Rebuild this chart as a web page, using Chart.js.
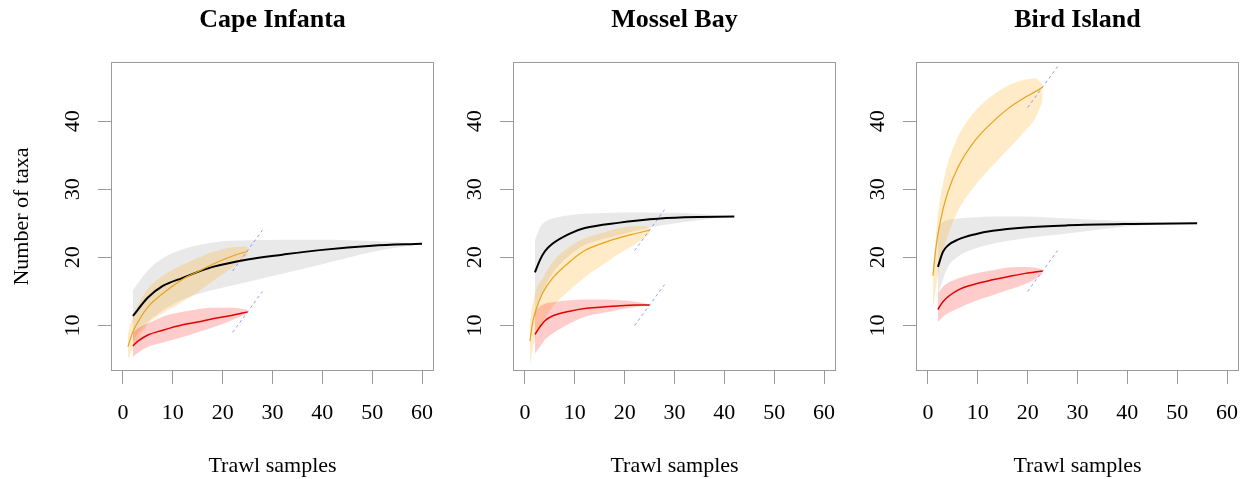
<!DOCTYPE html>
<html><head><meta charset="utf-8">
<script src="https://cdn.jsdelivr.net/npm/chart.js@4/dist/chart.umd.min.js"></script>
<style>
html,body{margin:0;padding:0;background:#fff;}
#wrap{position:relative;width:1246px;height:479px;overflow:hidden;background:#fff;}
canvas{position:absolute;top:0;}
</style></head><body>
<div id="wrap">
<canvas id="c0" width="452" height="479" style="left:0px"></canvas>
<canvas id="c1" width="452" height="479" style="left:402px"></canvas>
<canvas id="c2" width="452" height="479" style="left:805px"></canvas>
</div>
<script>
// ---------- data ----------
const panelTitles = ['Cape Infanta', 'Mossel Bay', 'Bird Island'];
const xTicks = [0, 10, 20, 30, 40, 50, 60];
const yTicks = [10, 20, 30, 40];
const xLabel = 'Trawl samples';
const yLabel = 'Number of taxa';

// Cape Infanta
const ciAllX    = [2, 5, 8, 12, 18, 25, 32, 40, 50, 60];
const ciAllMean = [11.4, 14.1, 15.8, 17.0, 18.6, 19.7, 20.4, 21.1, 21.7, 22.0];
const ciAllHi   = [15.2, 18.1, 19.9, 21.2, 22.2, 22.5, 22.6, 22.6, 22.4, 22.0];
const ciAllLo   = [7.8, 10.5, 12.2, 13.8, 15.2, 16.4, 17.6, 19.0, 20.8, 22.0];
const ciOrX     = [1, 2, 3, 5, 8, 12, 15, 18, 22, 25];
const ciOrMean  = [6.9, 9.1, 10.5, 12.7, 14.7, 16.8, 17.9, 19.0, 20.2, 20.9];
const ciOrHi    = [8.8, 11.5, 13.0, 15.4, 17.3, 18.9, 19.9, 20.8, 21.5, 21.6];
const ciOrLo    = [5.0, 6.8, 8.0, 10.2, 11.8, 13.5, 14.9, 16.5, 18.5, 20.3];
const ciRedX    = [2, 3, 5, 8, 12, 15, 18, 22, 25];
const ciRedMean = [7.0, 7.7, 8.6, 9.3, 10.1, 10.5, 11.0, 11.5, 12.0];
const ciRedHi   = [9.0, 9.6, 10.3, 11.3, 12.0, 12.4, 12.6, 12.6, 12.3];
const ciRedLo   = [5.4, 6.0, 6.85, 7.5, 8.3, 9.0, 9.7, 10.8, 11.8];
const ciOrDashX = [22, 28], ciOrDashY = [18, 24];
const ciRedDashX = [22, 28], ciRedDashY = [9, 15];

// Mossel Bay
const mbAllX    = [2, 3, 4, 5.5, 9, 12, 19, 25, 32, 42];
const mbAllMean = [17.8, 19.6, 20.9, 22.0, 23.5, 24.3, 25.1, 25.6, 25.9, 26.0];
const mbAllHi   = [22.5, 24.4, 25.2, 25.7, 26.2, 26.4, 26.6, 26.6, 26.5, 26.0];
const mbAllLo   = [11.0, 13.6, 15.6, 17.6, 20.3, 21.8, 23.3, 24.4, 25.2, 26.0];
const mbOrX     = [1, 1.5, 2.2, 3.5, 5.5, 9, 12, 15.6, 19, 22.3, 25];
const mbOrMean  = [7.7, 10.3, 12.3, 14.7, 16.9, 19.35, 21.0, 22.1, 22.9, 23.5, 24.0];
const mbOrHi    = [10.5, 13.0, 15.2, 16.9, 19.3, 21.6, 22.8, 23.6, 24.3, 24.6, 24.5];
const mbOrLo    = [4.2, 6.4, 8.5, 10.4, 12.7, 15.2, 17.1, 18.9, 20.6, 22.0, 23.5];
const mbRedX    = [2, 3, 4, 5.5, 9, 12, 15.6, 19, 22.3, 25];
const mbRedMean = [8.7, 9.8, 10.7, 11.4, 12.1, 12.5, 12.7, 12.9, 13.0, 13.0];
const mbRedHi   = [12.0, 12.8, 13.2, 13.4, 13.7, 13.8, 13.8, 13.7, 13.5, 13.1];
const mbRedLo   = [5.9, 6.85, 7.9, 8.8, 10.3, 11.3, 11.85, 12.35, 12.7, 13.0];
const mbOrDashX = [22, 28], mbOrDashY = [21, 27];
const mbRedDashX = [22, 28], mbRedDashY = [10, 16];

// Bird Island
const biAllX    = [2, 3, 4, 6, 9.5, 13, 19.5, 28, 41, 54];
const biAllMean = [18.6, 20.8, 21.75, 22.6, 23.4, 23.9, 24.4, 24.7, 24.9, 25.0];
const biAllHi   = [24.5, 25.2, 25.5, 25.7, 25.9, 26.0, 26.0, 25.7, 25.3, 25.0];
const biAllLo   = [14.5, 16.7, 18.6, 20.1, 21.3, 22.0, 22.8, 23.5, 24.6, 25.0];
const biOrX     = [1, 1.5, 2, 3, 4, 6, 9.5, 13, 16, 19.5, 21.5, 23];
const biOrMean  = [17.3, 20.8, 23.4, 27.0, 29.6, 33.2, 37.2, 39.9, 41.8, 43.5, 44.3, 45.0];
const biOrHi    = [18.2, 22.3, 26.5, 30.8, 33.8, 37.7, 41.5, 43.8, 45.2, 46.1, 46.3, 45.4];
const biOrLo    = [12.6, 15.0, 17.3, 20.6, 23.2, 26.8, 30.6, 33.5, 35.8, 38.6, 40.4, 43.0];
const biRedX    = [2, 3, 6, 9.5, 13, 16, 19.5, 21.5, 23];
const biRedMean = [12.35, 13.5, 15.2, 16.1, 16.7, 17.15, 17.65, 17.85, 18.0];
const biRedHi   = [14.7, 15.7, 16.9, 17.65, 18.1, 18.5, 18.6, 18.5, 18.2];
const biRedLo   = [10.5, 11.3, 12.5, 13.6, 14.45, 15.2, 16.1, 16.8, 17.65];
const biOrDashX = [20, 26], biOrDashY = [42, 48];
const biRedDashX = [20, 26], biRedDashY = [15, 21];

// ---------- styling ----------
const FONT = 'Liberation Serif';
const AXIS_COLOR = '#9a9a9a';
const GRAY_BAND = 'rgba(0,0,0,0.085)';
const ORANGE_BAND = 'rgba(255,165,0,0.22)';
const RED_BAND = 'rgba(255,0,0,0.2)';
const BLACK = '#000000', ORANGE = '#e9a21c', RED = '#e00000';
const DASH = 'rgba(120,120,235,0.75)';

Chart.defaults.font.family = FONT;
Chart.defaults.color = '#000';

const pts = (xs, ys) => xs.map((x, i) => ({x: x, y: ys[i]}));

function band(xs, hi, lo, color, order) {
  return [
    {data: pts(xs, hi), borderWidth: 0, borderColor: 'rgba(0,0,0,0)', pointRadius: 0,
     backgroundColor: color, fill: '+1', cubicInterpolationMode: 'monotone', order: order},
    {data: pts(xs, lo), borderWidth: 0, borderColor: 'rgba(0,0,0,0)', pointRadius: 0,
     fill: false, cubicInterpolationMode: 'monotone', order: order}
  ];
}
function line(xs, ys, color, w) {
  return {data: pts(xs, ys), borderColor: color, borderWidth: w, pointRadius: 0,
          fill: false, cubicInterpolationMode: 'monotone', order: 1};
}
function dash(xs, ys) {
  return {data: pts(xs, ys), borderColor: DASH, borderWidth: 1, borderDash: [3, 3],
          pointRadius: 0, fill: false, order: 2};
}

const panels = [
  {all: [ciAllX, ciAllMean, ciAllHi, ciAllLo], or: [ciOrX, ciOrMean, ciOrHi, ciOrLo],
   red: [ciRedX, ciRedMean, ciRedHi, ciRedLo],
   dashes: [[ciOrDashX, ciOrDashY], [ciRedDashX, ciRedDashY]]},
  {all: [mbAllX, mbAllMean, mbAllHi, mbAllLo], or: [mbOrX, mbOrMean, mbOrHi, mbOrLo],
   red: [mbRedX, mbRedMean, mbRedHi, mbRedLo],
   dashes: [[mbOrDashX, mbOrDashY], [mbRedDashX, mbRedDashY]]},
  {all: [biAllX, biAllMean, biAllHi, biAllLo], or: [biOrX, biOrMean, biOrHi, biOrLo],
   red: [biRedX, biRedMean, biRedHi, biRedLo],
   dashes: [[biOrDashX, biOrDashY], [biRedDashX, biRedDashY]]}
];

const boxPlugin = {
  id: 'box',
  afterDatasetsDraw(chart) {
    const {ctx, chartArea: a} = chart;
    ctx.save();
    ctx.strokeStyle = AXIS_COLOR;
    ctx.lineWidth = 1;
    const l = Math.round(a.left) + 0.5, t = Math.round(a.top) + 0.5;
    const r = Math.round(a.right) - 0.5, b = Math.round(a.bottom) - 0.5;
    ctx.strokeRect(l, t, r - l, b - t);
    ctx.restore();
  }
};

panels.forEach((p, i) => {
  const datasets = [];
  datasets.push(...band(p.all[0], p.all[2], p.all[3], GRAY_BAND, 12));
  datasets.push(...band(p.or[0], p.or[2], p.or[3], ORANGE_BAND, 11));
  datasets.push(...band(p.red[0], p.red[2], p.red[3], RED_BAND, 10));
  p.dashes.forEach(d => datasets.push(dash(d[0], d[1])));
  datasets.push(line(p.or[0], p.or[1], ORANGE, 1.2));
  datasets.push(line(p.red[0], p.red[1], RED, 1.5));
  datasets.push(line(p.all[0], p.all[1], BLACK, 2));

  new Chart(document.getElementById('c' + i), {
    type: 'line',
    data: {datasets: datasets},
    plugins: [boxPlugin],
    options: {
      responsive: false,
      animation: false,
      devicePixelRatio: 1,
      events: [],
      layout: {padding: {left: 0, right: 18, top: 0, bottom: 0}},
      plugins: {
        legend: {display: false},
        tooltip: {enabled: false},
        title: {display: true, text: panelTitles[i], fullSize: false, color: '#000',
                font: {family: FONT, size: 26, weight: 'bold', lineHeight: 1.2},
                padding: {top: 5, bottom: 25.8}}
      },
      scales: {
        x: {
          type: 'linear', min: -2.4, max: 62.4,
          afterBuildTicks: s => { s.ticks = xTicks.map(v => ({value: v})); },
          afterFit: s => { s.height = 108; },
          border: {display: false},
          grid: {drawOnChartArea: false, drawTicks: true, tickLength: 13,
                 color: AXIS_COLOR, tickColor: AXIS_COLOR, lineWidth: 1},
          ticks: {font: {family: FONT, size: 22}, color: '#000', padding: 16,
                  maxRotation: 0, minRotation: 0, autoSkip: false},
          title: {display: true, text: xLabel, color: '#000',
                  font: {family: FONT, size: 22}, padding: {top: 0, bottom: 0}}
        },
        y: {
          type: 'linear', min: 3.32, max: 48.68,
          afterBuildTicks: s => { s.ticks = yTicks.map(v => ({value: v})); },
          afterFit: s => { s.width = 111; },
          border: {display: false},
          grid: {drawOnChartArea: false, drawTicks: true, tickLength: 13,
                 color: AXIS_COLOR, tickColor: AXIS_COLOR, lineWidth: 1},
          ticks: {font: {family: FONT, size: 22}, color: '#000', padding: 14,
                  minRotation: 90, maxRotation: 90, crossAlign: 'center', autoSkip: false},
          title: {display: i === 0, text: yLabel, color: '#000',
                  font: {family: FONT, size: 22}, padding: {top: 9, bottom: 0}}
        }
      }
    }
  });
});
</script>
</body></html>
